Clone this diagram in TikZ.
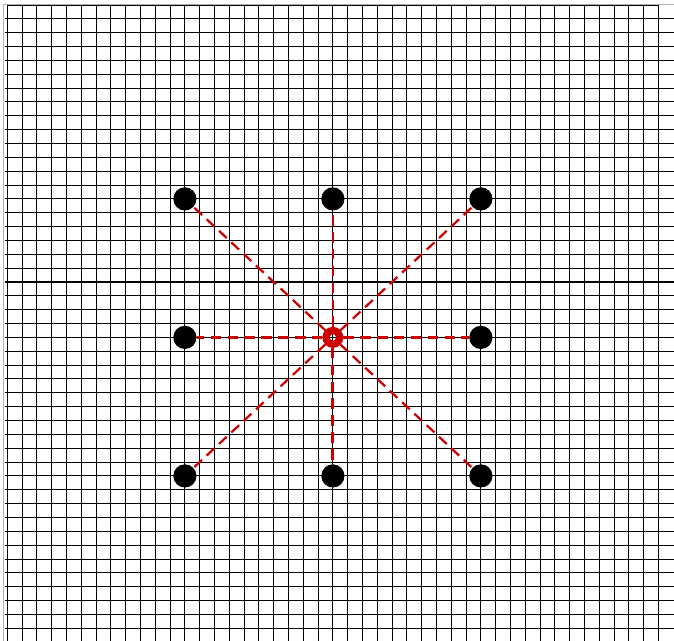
\documentclass[tikz,border=0pt]{standalone}
\usetikzlibrary{arrows.meta}

\definecolor{spokered}{RGB}{204,0,0}

\begin{document}
\begin{tikzpicture}[x=0.37cm, y=0.3463cm,
  gridline/.style={black, line width=0.74pt},
  frameline/.style={black!30, line width=1.2pt},
  dot/.style={circle, fill=black, inner sep=0pt, minimum size=0.58cm},
  hub/.style={circle, draw=spokered, line width=5.2pt, inner sep=0pt, minimum size=0.34cm},
  spoke/.style={spokered, line width=1.6pt, dash pattern=on 7.5pt off 4.5pt}]
\useasboundingbox (-0.493,0.15) rectangle (45.05,46.36);
% grid
\draw[gridline, xstep=1, ystep=1] (0,-0.2) grid (44,46);
\draw[gridline, xstep=10, ystep=1] (44,-0.2) grid (45.2,45);
\draw[gridline, xstep=10, ystep=1] (-0.16,-0.2) grid (-0.01,45);
\draw[frameline] (-0.26,-0.2) -- (-0.26,46.03) -- (45.2,46.03);
% points
\node[dot] (nw) at (12,32) {};
\node[dot] (n) at (22,32) {};
\node[dot] (ne) at (32,32) {};
\node[dot] (w) at (12,22) {};
\node[dot] (e) at (32,22) {};
\node[dot] (sw) at (12,12) {};
\node[dot] (s) at (22,12) {};
\node[dot] (se) at (32,12) {};
\node[hub] (c) at (22,22) {};
% spokes
\draw[spoke] (c) -- (nw);
\draw[spoke] (c) -- (n);
\draw[spoke] (c) -- (ne);
\draw[spoke] (c) -- (w);
\draw[spoke] (c) -- (e);
\draw[spoke] (c) -- (sw);
\draw[spoke, line width=2.2pt] (c) -- (s);
\draw[spoke] (c) -- (se);
\end{tikzpicture}
\end{document}
